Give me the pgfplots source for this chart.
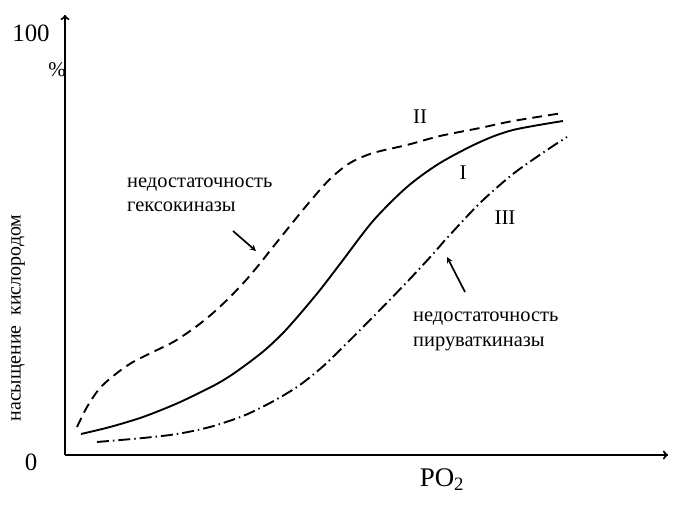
\documentclass[border=0pt]{standalone}
\usepackage{fontspec}
\setmainfont{Liberation Serif}
\usepackage{pgfplots}
\pgfplotsset{compat=1.18}
\begin{document}
\begin{tikzpicture}
\begin{axis}[
  scale only axis, width=603bp, height=440bp,
  xmin=65, xmax=668, ymin=50, ymax=490,
  axis lines=left, ticks=none, clip=false,
  axis line style={line width=2.1pt, -to},
]
\path (axis cs:0,0) rectangle (axis cs:675,505);
% curve I
\addplot[line width=1.9pt, smooth, tension=0.5] coordinates {
(81,71) (110,78) (143,88) (178,102) (213,119) (230,129) (247,141) (265,155) (283,172)
(300,191) (320,215) (340,241) (373,284) (407,318) (440,342) (480,363) (513,375) (563,384)};
% curve II
\addplot[line width=1.9pt, smooth, tension=0.5, dash pattern=on 10pt off 6pt] coordinates {
(77,78) (87,98) (100,117) (117,132) (133,143) (153,153) (175,164) (197,179) (213,192)
(230,208) (247,226) (262,244) (273,258) (307,300) (330,326) (350,342) (373,352)
(407,360) (440,369) (480,377) (513,384) (563,392)};
% curve III
\addplot[line width=1.9pt, smooth, tension=0.5, dash pattern=on 12pt off 4pt on 1.5pt off 4pt] coordinates {
(97,63) (143,67) (177,71) (210,78) (243,89) (270,102) (297,118) (320,136) (338,153)
(373,188) (407,223) (433,251) (447,267) (480,302) (513,331) (547,355) (567,368)};
% arrows
\draw[line width=1.7pt, -stealth] (axis cs:233,274) -- (axis cs:256,254);
\draw[line width=1.7pt, -stealth] (axis cs:465,213) -- (axis cs:447,248);
% labels
\node[font=\fontsize{25}{28}\selectfont] at (axis cs:31,472) {100};
\node[font=\fontsize{21}{24}\selectfont] at (axis cs:57,435) {\%};
\node[font=\fontsize{25}{28}\selectfont] at (axis cs:31,43) {0};
\node[font=\fontsize{27}{30}\selectfont] at (axis cs:442,25) {PO\textsubscript{2}};
\node[font=\fontsize{20}{24}\selectfont, rotate=90] at (axis cs:18,187) {насыщение\ \ кислородом};
\node[font=\fontsize{20.5}{24}\selectfont, anchor=base west, inner sep=0pt] at (axis cs:127,317) {недостаточность};
\node[font=\fontsize{20.5}{24}\selectfont, anchor=base west, inner sep=0pt] at (axis cs:127,293) {гексокиназы};
\node[font=\fontsize{20.5}{24}\selectfont, anchor=base west, inner sep=0pt] at (axis cs:413,183) {недостаточность};
\node[font=\fontsize{20.5}{24}\selectfont, anchor=base west, inner sep=0pt] at (axis cs:413,158) {пируваткиназы};
\node[font=\fontsize{21}{24}\selectfont] at (axis cs:420,388) {II};
\node[font=\fontsize{21}{24}\selectfont] at (axis cs:463,332) {I};
\node[font=\fontsize{21}{24}\selectfont] at (axis cs:505,287) {III};
\end{axis}
\end{tikzpicture}
\end{document}
